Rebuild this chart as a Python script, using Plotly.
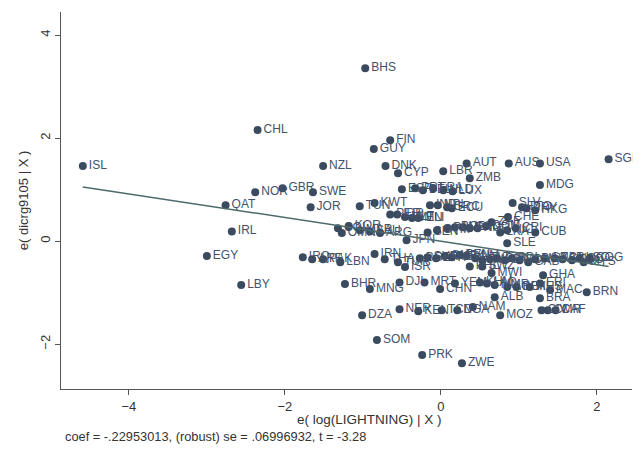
import plotly.graph_objects as go

# Partial-regression (added-variable) plot data: e(log(LIGHTNING)|X) vs e(dicrg9105|X)
labels = [
    "ISL", "CHL", "BHS", "FIN", "GUY", "NZL", "DNK", "CYP", "LBR", "AUT",
    "AUS", "USA", "SGP", "ZMB", "MDG", "NOR", "GBR", "SWE", "QAT", "JOR",
    "IRL", "EGY", "LBY", "BHR", "MNG", "DZA", "SOM", "PRK", "ZWE", "BRN",
    "MOZ", "NAM", "ALB", "BRA", "CAF", "CMR", "CIV", "CHN", "SLE", "CUB",
    "CHE", "HKG", "SLV", "TTO", "PRY", "LUX", "NLD", "FRA", "BEL", "PRT",
    "ESP", "ECU", "IND", "NPL", "GRC", "KWT", "TUN", "PER", "IDR", "MLT",
    "VEN", "MLI", "KOR", "COL", "OMN", "MAR", "SAU", "ARG", "JPN", "SEN",
    "GTM", "PAN", "BOL", "URY", "PNG", "HND", "ZAF", "DOM", "LKA", "NIC",
    "CRI", "IRN", "IRQ", "ARE", "PAK", "LBN", "THA", "TUR", "ISR", "BGD",
    "SYR", "ETH", "GMB", "MEX", "BEN", "VNM", "HTI", "RWA", "UGA", "TZA",
    "GIN", "BDI", "SDN", "GAB", "BWA", "GNB", "ZAR", "GNQ", "TGO", "LSO",
    "COG", "MYS", "PHL", "SWZ", "MWI", "MRT", "KHM", "LAO", "MMR", "AGO",
    "BFA", "MUS", "MAC", "ERI", "YEM", "DJI", "NER", "KEN", "TCD", "NGA",
    "GHA",
]
x_resid = [
    -4.59, -2.35, -0.97, -0.65, -0.86, -1.51, -0.71, -0.55, 0.03, 0.33,
    0.87, 1.27, 2.15, 0.37, 1.27, -2.38, -2.03, -1.64, -2.76, -1.67,
    -2.68, -3.00, -2.56, -1.23, -0.91, -1.01, -0.82, -0.24, 0.27, 1.87,
    0.76, 0.41, 0.69, 1.27, 1.47, 1.37, 1.29, -0.01, 0.85, 1.21,
    0.86, 1.21, 0.92, 1.04, 1.10, 0.15, 0.03, -0.10, -0.23, -0.33,
    -0.50, 0.14, -0.14, -0.04, 0.08, -0.85, -1.04, -0.65, -0.56, -0.46,
    -0.37, -0.29, -1.18, -1.32, -1.27, -1.04, -0.91, -0.78, -0.44, -0.17,
    -0.05, 0.08, 0.18, 0.28, 0.37, 0.47, 0.65, 0.58, 0.76, 0.85,
    0.96, -0.85, -1.77, -1.65, -1.51, -1.29, -0.72, -0.55, -0.46, -0.27,
    -0.17, -0.06, 0.05, 0.14, 0.24, 0.33, 0.44, 0.53, 0.63, 0.72,
    0.82, 0.91, 1.01, 1.12, 1.21, 1.33, 1.46, 1.56, 1.68, 1.78,
    1.91, 1.83, 0.37, 0.53, 0.65, -0.21, 0.50, 0.59, 0.69, 0.85,
    0.97, 1.14, 1.40, 1.27, 0.18, -0.53, -0.53, -0.29, 0.01, 0.21,
    1.31,
]
y_resid = [
    1.46, 2.16, 3.36, 1.96, 1.79, 1.46, 1.46, 1.32, 1.36, 1.51,
    1.51, 1.51, 1.59, 1.22, 1.09, 0.95, 1.03, 0.95, 0.70, 0.66,
    0.19, -0.29, -0.85, -0.83, -0.93, -1.44, -1.92, -2.21, -2.37, -0.99,
    -1.44, -1.28, -1.09, -1.11, -1.34, -1.34, -1.34, -0.93, -0.04, 0.17,
    0.47, 0.60, 0.74, 0.66, 0.64, 0.97, 0.99, 1.03, 0.99, 1.03,
    1.01, 0.64, 0.70, 0.70, 0.66, 0.74, 0.68, 0.52, 0.52, 0.47,
    0.45, 0.45, 0.29, 0.25, 0.16, 0.21, 0.19, 0.16, 0.02, 0.17,
    0.21, 0.25, 0.27, 0.27, 0.25, 0.25, 0.37, 0.29, 0.17, 0.21,
    0.25, -0.25, -0.31, -0.35, -0.35, -0.41, -0.35, -0.41, -0.50, -0.33,
    -0.31, -0.33, -0.29, -0.31, -0.27, -0.29, -0.33, -0.37, -0.35, -0.33,
    -0.37, -0.33, -0.37, -0.41, -0.35, -0.33, -0.33, -0.35, -0.37, -0.33,
    -0.33, -0.41, -0.49, -0.49, -0.62, -0.80, -0.80, -0.82, -0.85, -0.89,
    -0.89, -0.89, -0.95, -0.82, -0.82, -0.80, -1.32, -1.36, -1.34, -1.34,
    -0.66,
]

coef = -0.22953013
se = 0.06996932
tstat = -3.28

x_ticks = [-4, -2, 0, 2]
y_ticks = [-2, 0, 2, 4]
x_title = "e( log(LIGHTNING) | X )"
y_title = "e( dicrg9105 | X )"

dot_color = "#3a4a5f"
font_family = "Liberation Sans, Arial, Helvetica, sans-serif"

fig = go.Figure()

fig.add_trace(go.Scatter(
    x=x_resid, y=y_resid, mode="markers+text",
    text=labels, textposition="middle right",
    textfont=dict(family=font_family, size=12, color="#43516a"),
    marker=dict(size=8, color=dot_color),
    showlegend=False, hoverinfo="text", cliponaxis=False,
))

x_min, x_max = min(x_resid), max(x_resid)
fig.add_trace(go.Scatter(
    x=[x_min, x_max], y=[coef * x_min, coef * x_max],
    mode="lines", line=dict(color="#4d6a6a", width=1.5),
    showlegend=False, hoverinfo="skip",
))

axis_common = dict(
    showgrid=False, zeroline=False, showline=True, linecolor="#555555",
    linewidth=1, ticks="outside", ticklen=5, tickcolor="#555555",
    automargin=False,
    tickfont=dict(family=font_family, size=13, color="#333333"),
)

coef_txt = "-." + f"{abs(coef):.8f}".split(".")[1]
se_txt = "." + f"{se:.8f}".split(".")[1]

fig.update_layout(
    width=633, height=448,
    margin=dict(l=53, r=9, t=4, b=67, autoexpand=False),
    paper_bgcolor="white", plot_bgcolor="white",
    font=dict(family=font_family, color="#333333"),
    xaxis=dict(range=[-4.87, 2.45], tickvals=x_ticks, **axis_common),
    yaxis=dict(range=[-2.87, 4.45], tickvals=y_ticks, tickangle=-90,
               title=dict(text=y_title, font=dict(size=13), standoff=6),
               **axis_common),
    annotations=[
        dict(
            xref="paper", yref="paper", x=0.541, y=-0.082,
            xanchor="center", yanchor="middle", showarrow=False,
            text=x_title, font=dict(family=font_family, size=13.5, color="#333333"),
        ),
        dict(
            xref="paper", yref="paper", x=0.003, y=-0.127,
            xanchor="left", yanchor="middle", showarrow=False,
            text=f"coef = {coef_txt}, (robust) se = {se_txt}, t = {tstat:.2f}",
            font=dict(family=font_family, size=12.8, color="#333333"),
        ),
    ],
)

fig.write_html("out.html")
